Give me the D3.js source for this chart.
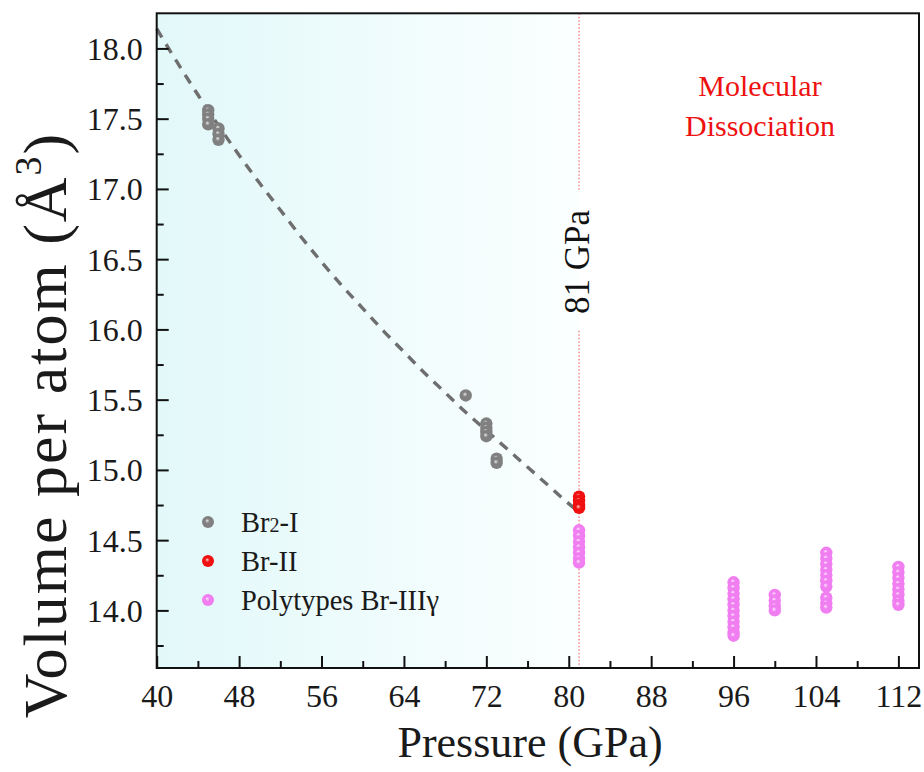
<!DOCTYPE html>
<html><head><meta charset="utf-8">
<script src="https://cdn.jsdelivr.net/npm/d3@7"></script>
<style>html,body{margin:0;padding:0;background:#fff;}svg{display:block;font-family:"Liberation Serif","Times New Roman",serif;}</style>
</head><body>
<svg id="c" width="924" height="772"></svg>
<script>
// ---- data ----
const xTicks = [40, 48, 56, 64, 72, 80, 88, 96, 104, 112];
const yTicks = [14.0, 14.5, 15.0, 15.5, 16.0, 16.5, 17.0, 17.5, 18.0];
const br2I_P = [45, 45, 45, 45, 46, 46, 46, 70, 72, 72, 72, 72, 73, 73];
const br2I_V = [17.56, 17.53, 17.50, 17.46, 17.43, 17.39, 17.35, 15.53, 15.33, 15.30, 15.27, 15.24, 15.08, 15.05];
const brII_P = [81, 81, 81, 81];
const brII_V = [14.81, 14.78, 14.75, 14.73];
const poly_P = [81, 81, 81, 81, 81, 81, 81,
  96, 96, 96, 96, 96, 96, 96, 96, 96, 96, 96,
  100, 100, 100, 100,
  105, 105, 105, 105, 105, 105, 105, 105, 105, 105,
  112, 112, 112, 112, 112, 112, 112, 112];
const poly_V = [14.57, 14.53, 14.49, 14.45, 14.41, 14.37, 14.34,
  14.20, 14.16, 14.12, 14.08, 14.04, 14.00, 13.96, 13.92, 13.88, 13.84, 13.82,
  14.11, 14.07, 14.03, 14.00,
  14.41, 14.37, 14.33, 14.29, 14.25, 14.21, 14.17, 14.09, 14.05, 14.02,
  14.31, 14.27, 14.23, 14.19, 14.15, 14.11, 14.07, 14.04];
const fitP = [40, 42, 44, 46, 48, 50, 52, 54, 56, 58, 60, 62, 64, 66, 68, 70, 72, 74, 76, 78, 80, 81];
const fitV = [18.14, 17.90, 17.67, 17.45, 17.24, 17.04, 16.85, 16.66, 16.48, 16.31, 16.15, 15.99, 15.84, 15.69, 15.55, 15.41, 15.28, 15.15, 15.02, 14.89, 14.76, 14.70];
const transitionP = 81;
const legendLabels = ["Br2-I", "Br-II", "Polytypes Br-III\u03b3"];

// ---- layout ----
const L = 156.7, T = 13.3, R = 919, B = 668;
const svg = d3.select("#c");
const x = d3.scaleLinear().domain([40, 114]).range([L, R]);
const y = d3.scaleLinear().domain([13.59, 18.25]).range([B, T]);

const defs = svg.append("defs");
const bg = defs.append("linearGradient").attr("id", "bg").attr("x1", "0").attr("x2", "1").attr("y1", "0").attr("y2", "0");
bg.append("stop").attr("offset", "0").attr("stop-color", "#e2f8f9");
bg.append("stop").attr("offset", "1").attr("stop-color", "#fbffff");
function ball(id, base, hi) {
  const g = defs.append("radialGradient").attr("id", id).attr("cx", "0.5").attr("cy", "0.5").attr("r", "0.55").attr("fx", "0.42").attr("fy", "0.38");
  g.append("stop").attr("offset", "0").attr("stop-color", hi);
  g.append("stop").attr("offset", "0.35").attr("stop-color", base);
  g.append("stop").attr("offset", "1").attr("stop-color", base);
}
ball("gGray", "#808080", "#e6e6e6");
ball("gRed", "#f01010", "#ffd0d0");
ball("gPink", "#f07ef0", "#ffe6ff");

// background shading
svg.append("rect").attr("x", x(40)).attr("y", T).attr("width", x(transitionP) - x(40)).attr("height", B - T).attr("fill", "url(#bg)");

// transition line (broken around label)
const vline = svg.append("g").attr("stroke", "#e8504f").attr("stroke-width", 1).attr("stroke-dasharray", "1.5,2");
vline.append("line").attr("x1", x(transitionP)).attr("x2", x(transitionP)).attr("y1", T).attr("y2", y(16.98));
vline.append("line").attr("x1", x(transitionP)).attr("x2", x(transitionP)).attr("y1", y(15.99)).attr("y2", B);
svg.append("text").attr("transform", `translate(${x(transitionP) + 10},${y(16.48)}) rotate(-90)`)
  .attr("text-anchor", "middle").attr("font-size", 35).attr("fill", "#111").text("81 GPa");

// fit line
const line = d3.line().x((d, i) => x(fitP[i])).y(d => y(d)).curve(d3.curveMonotoneX);
svg.append("path").attr("d", line(fitV)).attr("fill", "none").attr("stroke", "#6e6e6e")
  .attr("stroke-width", 3.4).attr("stroke-dasharray", "10,8");

// points
function pts(P, V, fill) {
  svg.append("g").selectAll("circle").data(V).join("circle")
    .attr("cx", (d, i) => x(P[i])).attr("cy", d => y(d)).attr("r", 6.2).attr("fill", fill);
}
pts(br2I_P, br2I_V, "url(#gGray)");
pts(brII_P, brII_V, "url(#gRed)");
pts(poly_P, poly_V, "url(#gPink)");

// axes
const xAxis = d3.axisBottom(x).tickValues(d3.range(40, 114, 4)).tickSizeInner(-12).tickSizeOuter(0)
  .tickFormat(d => xTicks.includes(d) ? d : "");
const gx = svg.append("g").attr("transform", `translate(0,${B})`).call(xAxis);
gx.selectAll(".tick line").attr("y2", d => xTicks.includes(d) ? -12 : -7);
const yAxis = d3.axisLeft(y).tickValues(d3.range(13.75, 18.2, 0.25)).tickSizeInner(-12).tickSizeOuter(0)
  .tickFormat(d => yTicks.some(t => Math.abs(t - d) < 1e-6) ? d3.format(".1f")(d) : "");
const gy = svg.append("g").attr("transform", `translate(${L},0)`).call(yAxis);
gy.selectAll(".tick line").attr("x2", d => yTicks.some(t => Math.abs(t - d) < 1e-6) ? 12 : 7);
[gx, gy].forEach(g => {
  g.select(".domain").remove();
  g.selectAll(".tick line").attr("stroke", "#111").attr("stroke-width", 2);
  g.selectAll(".tick text").attr("font-size", 32).attr("fill", "#1a1a1a")
    .attr("font-family", '"Liberation Serif","Times New Roman",serif');
});
gx.selectAll(".tick text").attr("dy", 0).attr("y", 39);
gy.selectAll(".tick text").attr("x", -14).attr("dy", "0.34em");
// frame
svg.append("rect").attr("x", L).attr("y", T).attr("width", R - L).attr("height", B - T)
  .attr("fill", "none").attr("stroke", "#111").attr("stroke-width", 2);

// titles
svg.append("text").attr("x", 530).attr("y", 757).attr("text-anchor", "middle")
  .attr("font-size", 44).attr("fill", "#1a1a1a").text("Pressure (GPa)");
const yt = svg.append("text").attr("transform", `translate(66,425) rotate(-90)`)
  .attr("text-anchor", "middle").attr("font-size", 62).attr("letter-spacing", 2).attr("fill", "#1a1a1a");
yt.append("tspan").text("Volume per atom (Å");
yt.append("tspan").attr("font-size", 38).attr("dy", -25).text("3");
yt.append("tspan").attr("dy", 25).text(")");

// annotation
const ann = svg.append("text").attr("text-anchor", "middle").attr("font-size", 30).attr("fill", "#ee1111");
ann.append("tspan").attr("x", 760).attr("y", 96).text("Molecular");
ann.append("tspan").attr("x", 760).attr("y", 136).text("Dissociation");

// legend
const legFills = ["url(#gGray)", "url(#gRed)", "url(#gPink)"];
const lg = svg.append("g");
legendLabels.forEach((lab, i) => {
  const yy = 522 + i * 39;
  lg.append("circle").attr("cx", 208).attr("cy", yy).attr("r", 6).attr("fill", legFills[i]);
  const t = lg.append("text").attr("x", 241).attr("y", yy + 10).attr("font-size", 28.5).attr("fill", "#1a1a1a");
  if (i === 0) {
    t.append("tspan").text("Br");
    t.append("tspan").attr("font-size", 20).text("2");
    t.append("tspan").text("-I");
  } else t.text(lab);
});
</script>
</body></html>
